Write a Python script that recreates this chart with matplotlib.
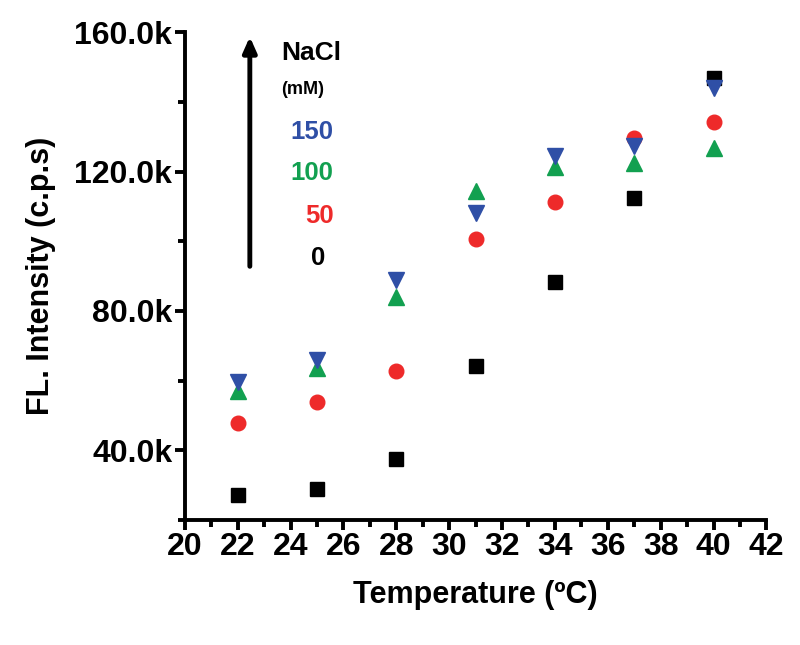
import numpy as np
import matplotlib.pyplot as plt
from matplotlib.ticker import MultipleLocator, FuncFormatter

plt.rcParams['font.family'] = ['Liberation Sans', 'DejaVu Sans']
plt.rcParams['font.weight'] = 'bold'

# temperatures (C)
temps = [22, 25, 28, 31, 34, 37, 40]

# FL intensity (c.p.s) for each NaCl concentration
nacl_0 = [27100, 28800, 37400, 64300, 88200, 112500, 146900]
nacl_50 = [47700, 53800, 62600, 100500, 111400, 129700, 134300]
nacl_100 = [56900, 63500, 83900, 114300, 121400, 122600, 126900]
nacl_150 = [59500, 65800, 89000, 108000, 124600, 127200, 144100]

c_black = '#000000'
c_red = '#EE2A2A'
c_green = '#12A050'
c_blue = '#2F4FA6'

fig = plt.figure(figsize=(8, 6.45), dpi=100)
ax = fig.add_axes([0.231, 0.194, 0.727, 0.756])

ax.plot(temps, nacl_0, 's', color=c_black, ms=9.5, ls='none')
ax.plot(temps, nacl_50, 'o', color=c_red, ms=10.5, ls='none')
ax.plot(temps, nacl_100, '^', color=c_green, ms=11.5, ls='none')
ax.plot(temps, nacl_150, 'v', color=c_blue, ms=11.5, ls='none')

ax.set_xlim(20, 42)
ax.set_ylim(20000, 160000)
ax.xaxis.set_major_locator(MultipleLocator(2))
ax.xaxis.set_minor_locator(MultipleLocator(1))
ax.yaxis.set_minor_locator(MultipleLocator(20000))
ax.set_yticks([40000, 80000, 120000, 160000])
ax.yaxis.set_major_formatter(FuncFormatter(lambda v, p: '%.1fk' % (v / 1000)))

for s in ['top', 'right']:
    ax.spines[s].set_visible(False)
for s in ['left', 'bottom']:
    ax.spines[s].set_linewidth(2.8)

ax.tick_params(which='major', direction='out', length=7, width=2.8,
               labelsize=23, pad=2)
ax.tick_params(which='minor', direction='out', length=5, width=2.8)
for lab in ax.get_xticklabels() + ax.get_yticklabels():
    lab.set_fontweight('bold')

ax.set_xlabel('Temperature (ºC)', fontsize=22, fontweight='bold', labelpad=13)
ax.set_ylabel('FL. Intensity (c.p.s)', fontsize=22, fontweight='bold', labelpad=13)

# arrow and NaCl labels
ax.annotate('', xy=(22.46, 159500), xytext=(22.46, 92000),
            arrowprops=dict(arrowstyle='-|>,head_width=0.4,head_length=0.9',
                            lw=3.5, color='black'))
ax.text(24.8, 154000, 'NaCl', fontsize=19, fontweight='bold',
        ha='center', va='center')
ax.text(24.45, 143500, '(mM)', fontsize=13, fontweight='bold',
        ha='center', va='center')
ax.text(24.8, 131500, '150', fontsize=18.5, fontweight='bold', color=c_blue,
        ha='center', va='center')
ax.text(24.8, 119500, '100', fontsize=18.5, fontweight='bold', color=c_green,
        ha='center', va='center')
ax.text(25.1, 107300, '50', fontsize=18.5, fontweight='bold', color=c_red,
        ha='center', va='center')
ax.text(25.05, 95300, '0', fontsize=18.5, fontweight='bold', color=c_black,
        ha='center', va='center')

fig.savefig('out.png', dpi=100)
